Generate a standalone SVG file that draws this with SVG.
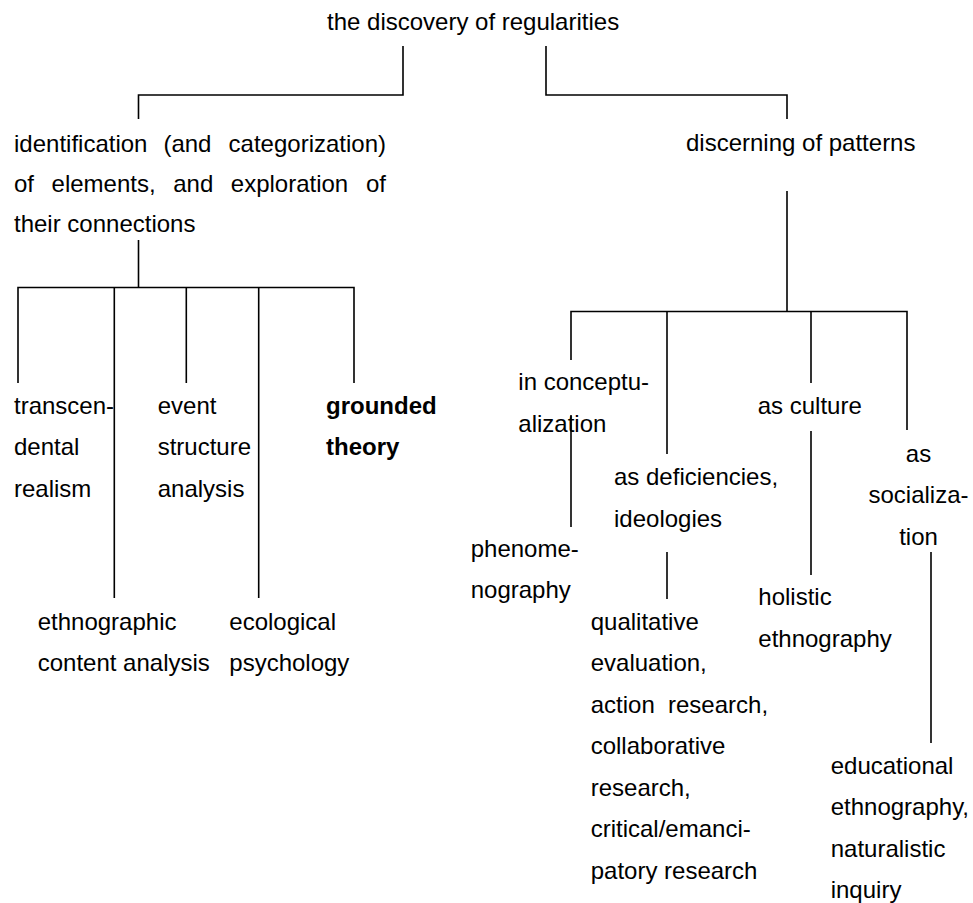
<svg xmlns="http://www.w3.org/2000/svg" width="973" height="903" viewBox="0 0 973 903">
  <style>
    text { font-family: "Liberation Sans", Arial, sans-serif; font-size: 24px; fill: #000; }
    .b { font-weight: bold; }
    .c { text-anchor: middle; }
    .e { text-anchor: end; }
    .wire { fill: none; stroke: #000; stroke-width: 1.6; stroke-linecap: butt; stroke-linejoin: miter; }
  </style>
  <rect width="973" height="903" fill="#fff"/>

  <!-- tree connectors -->
  <g id="connectors">
    <!-- root to first level -->
    <path class="wire" d="M403,46 V95 H138.5 V119"/>
    <path class="wire" d="M546,46 V95 H787 V119"/>
    <!-- identification branch -->
    <path class="wire" d="M138.5,240 V287.5"/>
    <path class="wire" d="M18,383 V287.5 H354 V383"/>
    <path class="wire" d="M114.3,287.5 V598"/>
    <path class="wire" d="M186.3,287.5 V383"/>
    <path class="wire" d="M258.7,287.5 V598"/>
    <!-- patterns branch -->
    <path class="wire" d="M787,191 V311.5"/>
    <path class="wire" d="M571,360 V311.5 H907 V430"/>
    <path class="wire" d="M667,311.5 V454"/>
    <path class="wire" d="M811,311.5 V383"/>
    <!-- leaves under patterns -->
    <path class="wire" d="M571,415 V527"/>
    <path class="wire" d="M667,552 V599"/>
    <path class="wire" d="M811,431 V575"/>
    <path class="wire" d="M931,552 V743"/>
  </g>

  <g id="root">
    <text x="327" y="30">the discovery of regularities</text>
  </g>

  <g id="identification">
    <text y="152"><tspan x="14">identification</tspan><tspan x="163.4">(and</tspan><tspan x="386" class="e">categorization)</tspan></text>
    <text y="192"><tspan x="14">of</tspan><tspan x="51.6">elements,</tspan><tspan x="173.2">and</tspan><tspan x="230.8">exploration</tspan><tspan x="386" class="e">of</tspan></text>
    <text x="14" y="232">their connections</text>
  </g>

  <g id="patterns">
    <text x="686" y="151">discerning of patterns</text>
  </g>

  <g id="transcendental-realism">
    <text x="14" y="414">transcen-</text>
    <text x="14" y="455">dental</text>
    <text x="14" y="496.5">realism</text>
  </g>

  <g id="event-structure-analysis">
    <text x="157.7" y="414">event</text>
    <text x="157.7" y="455">structure</text>
    <text x="157.7" y="496.5">analysis</text>
  </g>

  <g id="grounded-theory">
    <text class="b" x="326" y="414">grounded</text>
    <text class="b" x="326" y="455">theory</text>
  </g>

  <g id="ethnographic-content-analysis">
    <text x="37.7" y="629.5">ethnographic</text>
    <text x="37.7" y="671">content analysis</text>
  </g>

  <g id="ecological-psychology">
    <text x="229.3" y="629.5">ecological</text>
    <text x="229.3" y="671">psychology</text>
  </g>

  <g id="in-conceptualization">
    <text x="518.3" y="390">in conceptu-</text>
    <text x="518.3" y="431.5">alization</text>
  </g>

  <g id="as-deficiencies">
    <text x="614" y="485">as deficiencies,</text>
    <text x="614" y="526.5">ideologies</text>
  </g>

  <g id="as-culture">
    <text x="757.7" y="413.5">as culture</text>
  </g>

  <g id="as-socialization">
    <text class="c" x="918.5" y="461.5">as</text>
    <text class="c" x="918.5" y="503">socializa-</text>
    <text class="c" x="918.5" y="545">tion</text>
  </g>

  <g id="phenomenography">
    <text x="470.7" y="556.5">phenome-</text>
    <text x="470.7" y="598">nography</text>
  </g>

  <g id="qualitative-evaluation">
    <text x="590.7" y="629.5">qualitative</text>
    <text x="590.7" y="671">evaluation,</text>
    <text y="712.5"><tspan x="590.7">action</tspan><tspan x="668">research,</tspan></text>
    <text x="590.7" y="754">collaborative</text>
    <text x="590.7" y="795.5">research,</text>
    <text x="590.7" y="837">critical/emanci-</text>
    <text x="590.7" y="878.5">patory research</text>
  </g>

  <g id="holistic-ethnography">
    <text x="758.3" y="605">holistic</text>
    <text x="758.3" y="647">ethnography</text>
  </g>

  <g id="educational-ethnography">
    <text x="830.7" y="773.5">educational</text>
    <text x="830.7" y="815">ethnography,</text>
    <text x="830.7" y="856.5">naturalistic</text>
    <text x="830.7" y="898">inquiry</text>
  </g>
</svg>
